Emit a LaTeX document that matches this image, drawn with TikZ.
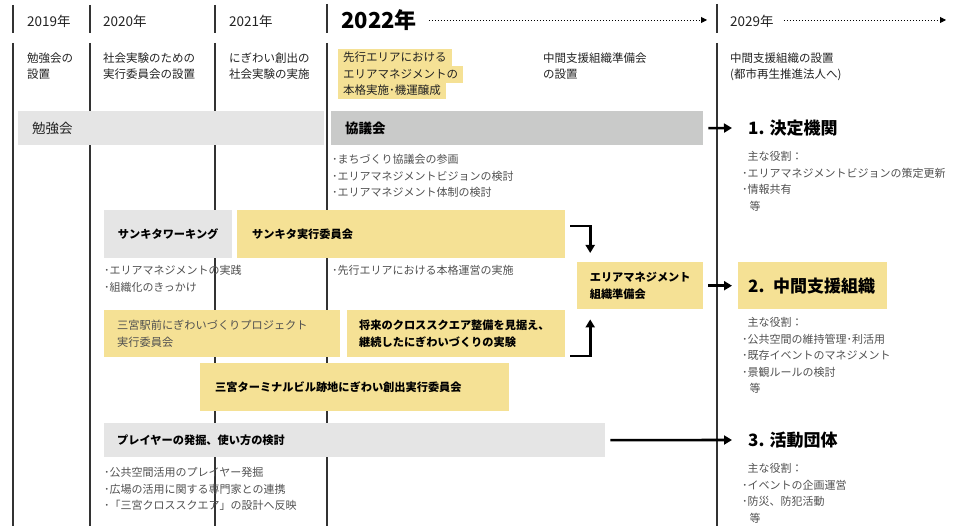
\documentclass[tikz,border=0pt]{standalone}
\usepackage{fontspec}
\setmainfont{Noto Sans CJK JP}
\usetikzlibrary{arrows.meta}
\definecolor{hlyellow}{HTML}{F5E195}
\definecolor{lgray}{HTML}{E5E5E5}
\definecolor{dgray}{HTML}{C9CAC9}
\definecolor{linecol}{HTML}{333333}
\definecolor{txtgray}{HTML}{505050}
\definecolor{txtdark}{HTML}{222222}
\begin{document}
\begin{tikzpicture}[x=1pt,y=-1pt,
  divider/.style={draw=linecol, line width=1.1pt},
  thickdivider/.style={draw=linecol, line width=2pt},
  year/.style={anchor=west, inner sep=0pt, font=\fontsize{13.5}{16}\selectfont, text=txtdark},
  bigyear/.style={anchor=west, inner sep=0pt, font=\bfseries\fontsize{22}{24}\selectfont, text=black},
  head/.style={anchor=north west, inner sep=0pt, align=left, font=\fontsize{11.5}{16.5}\selectfont, text=txtdark},
  hl/.style={anchor=west, fill=hlyellow, inner xsep=5pt, inner ysep=0pt, text height=12.5pt, text depth=4.5pt, font=\fontsize{11.5}{16.5}\selectfont, text=txtdark},
  lbox/.style n args={3}{anchor=north west, inner xsep=#3, inner ysep=0pt, minimum height=#2, text width=#1, align=left},
  cbox/.style n args={2}{anchor=north west, inner xsep=0pt, inner ysep=0pt, minimum height=#2, minimum width=#1, align=left},
  lab/.style={font=\bfseries\fontsize{11.2}{17}\selectfont, text=black},
  labreg/.style={font=\fontsize{11.2}{17}\selectfont, text=txtgray},
  bullets/.style={anchor=north west, inner sep=0pt, align=left, font=\fontsize{11}{16.5}\selectfont, text=txtgray},
  sect/.style={anchor=west, inner sep=0pt, font=\bfseries\fontsize{17}{20}\selectfont, text=black},
  arr/.style={draw=black, line width=2.6pt, -{Triangle[length=8pt,width=9pt]}},
  dotarrow/.style={draw=black, line width=0.9pt, dash pattern=on 0.9pt off 2.1pt, -{Triangle[length=6pt,width=6pt]}},
]
\useasboundingbox (0,0) rectangle (956,526);

% dividers
\foreach \x in {13,90,215} {
  \draw[divider] (\x,5) -- (\x,33);
  \draw[divider] (\x,43) -- (\x,526);
}
\draw[thickdivider] (327,4) -- (327,33);
\draw[divider] (327,43) -- (327,526);
\draw[divider] (717,4) -- (717,33);
\draw[divider] (717,43) -- (717,526);

% years
\node[year] (y2019) at (27,21) {2019年};
\node[year] (y2020) at (103,21) {2020年};
\node[year] (y2021) at (229,21) {2021年};
\node[bigyear] (y2022) at (341,20) {2022年};
\node[year] (y2029) at (730,21) {2029年};
\coordinate (d1end) at (707,20);
\coordinate (d2end) at (946,20);
\draw[dotarrow] ([xshift=12pt]y2022.east) -- (d1end);
\draw[dotarrow] ([xshift=10pt,yshift=1pt]y2029.east) -- (d2end);

% column headers
\node[head] (h2019) at (27,52.5) {勉強会の\\設置};
\node[head] (h2020) at (103,52.5) {社会実験のための\\実行委員会の設置};
\node[head] (h2021) at (229,52.5) {にぎわい創出の\\社会実験の実施};
\node[hl] (hl1) at (338,58) {先行エリアにおける};
\node[hl] (hl2) at (338,74.5) {エリアマネジメントの};
\node[hl] (hl3) at (338,91) {本格実施･機運醸成};
\node[head] (hjunbi) at (543,52.5) {中間支援組織準備会\\の設置};
\node[head] (h2029) at (730,52.5) {中間支援組織の設置\\(都市再生推進法人へ)};

% bars and boxes
\node[lbox={278pt}{34pt}{14pt}, fill=lgray, font=\fontsize{13.5}{16}\selectfont, text=txtdark] (benkyo) at (18,111) {勉強会};
\node[lbox={344pt}{34pt}{14pt}, fill=dgray, font=\bfseries\fontsize{13.5}{16}\selectfont, text=black] (kyogi) at (331,111) {協議会};
\node[cbox={128pt}{48pt}, fill=lgray, lab] (wg) at (104,210) {サンキタワーキング};
\node[lbox={298pt}{48pt}{15pt}, fill=hlyellow, lab] (sjikko) at (237,210) {サンキタ実行委員会};
\node[cbox={126pt}{47pt}, fill=hlyellow, lab] (junbi) at (577,262) {エリアマネジメント\\組織準備会};
\node[lbox={129pt}{47pt}{10pt}, fill=hlyellow, font=\bfseries\fontsize{17}{20}\selectfont, text=black] (chukan) at (738,262) {2. 中間支援組織};
\node[lbox={210pt}{47pt}{13pt}, fill=hlyellow, labreg] (ekimae) at (104,310) {三宮駅前にぎわいづくりプロジェクト\\実行委員会};
\node[lbox={194pt}{47pt}{12pt}, fill=hlyellow, lab] (shorai) at (347,310) {将来のクロススクエア整備を見据え、\\継続したにぎわいづくりの実験};
\node[lbox={279pt}{48pt}{15pt}, fill=hlyellow, lab] (terminal) at (200,363) {三宮ターミナルビル跡地にぎわい創出実行委員会};
\node[lbox={475pt}{34pt}{13pt}, fill=lgray, lab] (player) at (104,423) {プレイヤーの発掘、使い方の検討};

% section headings
\node[sect] (kettei) at (748,128) {1. 決定機関};
\node[sect] (katsudo) at (748,440) {3. 活動団体};

% bullet texts
\node[bullets] (kyogib) at (332,154.5) {･まちづくり協議会の参画\\･エリアマネジメントビジョンの検討\\･エリアマネジメント体制の検討};
\node[bullets] (wgb) at (104,265.5) {･エリアマネジメントの実践\\･組織化のきっかけ};
\node[bullets] (sjikkob) at (332,265.5) {･先行エリアにおける本格運営の実施};
\node[bullets] (ketteib) at (742,151.5) {\hphantom{･}主な役割：\\･エリアマネジメントビジョンの策定更新\\･情報共有\\\hphantom{･}\,等};
\node[bullets] (chukanb) at (742,317.5) {\hphantom{･}主な役割：\\･公共空間の維持管理･利活用\\･既存イベントのマネジメント\\･景観ルールの検討\\\hphantom{･}\,等};
\node[bullets] (katsudob) at (742,463.5) {\hphantom{･}主な役割：\\･イベントの企画運営\\･防災、防犯活動\\\hphantom{･}\,等};
\node[bullets] (playerb) at (104,467.5) {･公共空間活用のプレイヤー発掘\\･広場の活用に関する専門家との連携\\･「三宮クロススクエア」の設計へ反映};

% connectors
\draw[arr] ([xshift=5pt]kyogi.east) -- ([xshift=-16pt]kettei.west);
\draw[arr] ([xshift=5pt]junbi.east) -- ([xshift=-6pt]chukan.west);
\draw[arr] ([xshift=5pt]player.east) -- ([xshift=-16pt]katsudo.west);
\draw[arr] ([xshift=5pt,yshift=8pt]sjikko.east) -| ([xshift=-50pt,yshift=9pt]junbi.north);
\draw[arr] ([xshift=5pt,yshift=1.5pt]shorai.south east) -| ([xshift=-50pt,yshift=-10pt]junbi.south);
\end{tikzpicture}
\end{document}
